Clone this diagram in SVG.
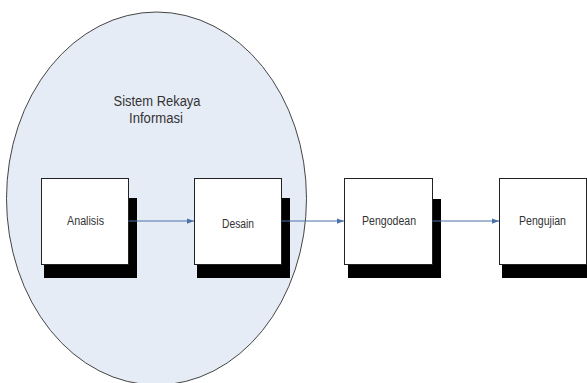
<svg xmlns="http://www.w3.org/2000/svg" width="587" height="383" viewBox="0 0 587 383">
<defs>
<style>
.box{fill:#ffffff;stroke:#222;stroke-width:1}
.shadow{fill:#000}
.lbl{font-family:"Liberation Sans",Arial,sans-serif;font-size:12.5px;fill:#333;text-anchor:middle}
.title{font-family:"Liberation Sans",Arial,sans-serif;font-size:14px;fill:#333;text-anchor:middle}
.conn{stroke:#4a72a8;stroke-width:1;fill:none;marker-end:url(#ah)}
</style>
<marker id="ah" viewBox="0 0 8 8" refX="8" refY="4" markerWidth="7" markerHeight="7" markerUnits="userSpaceOnUse" orient="auto">
<path d="M0,1 L8,4 L0,7 z" fill="#4a72a8"/>
</marker>
</defs>
<rect width="587" height="383" fill="#ffffff"/>
<g id="sistem-rekaya">
<ellipse cx="156.5" cy="198.5" rx="150" ry="186.5" fill="#e6ecf6" stroke="#444" stroke-width="1"/>
<text class="title" x="157" y="106" textLength="87" lengthAdjust="spacingAndGlyphs">Sistem Rekaya</text>
<text class="title" x="156" y="123" textLength="54" lengthAdjust="spacingAndGlyphs">Informasi</text>
</g>
<g id="analisis">
<rect class="shadow" x="44" y="198" width="93" height="80"/>
<rect class="box" x="41.5" y="178.5" width="87" height="86"/>
<text class="lbl" x="85.5" y="225" textLength="37" lengthAdjust="spacingAndGlyphs">Analisis</text>
</g>
<g id="desain">
<rect class="shadow" x="197" y="198" width="93" height="80"/>
<rect class="box" x="194.5" y="178.5" width="87" height="86"/>
<text class="lbl" x="238" y="228" textLength="32" lengthAdjust="spacingAndGlyphs">Desain</text>
</g>
<g id="pengodean">
<rect class="shadow" x="348" y="199" width="93" height="79"/>
<rect class="box" x="344.5" y="178.5" width="88" height="86"/>
<text class="lbl" x="389" y="225" textLength="54" lengthAdjust="spacingAndGlyphs">Pengodean</text>
</g>
<g id="pengujian">
<rect class="shadow" x="502" y="199" width="93" height="79"/>
<rect class="box" x="499.5" y="178.5" width="87" height="86"/>
<text class="lbl" x="542.5" y="225" textLength="47" lengthAdjust="spacingAndGlyphs">Pengujian</text>
</g>
<g id="connectors">
<line class="conn" x1="128.5" y1="221" x2="194" y2="221"/>
<line class="conn" x1="281.5" y1="221" x2="344" y2="221"/>
<line class="conn" x1="432.5" y1="221" x2="499" y2="221"/>
</g>
</svg>
